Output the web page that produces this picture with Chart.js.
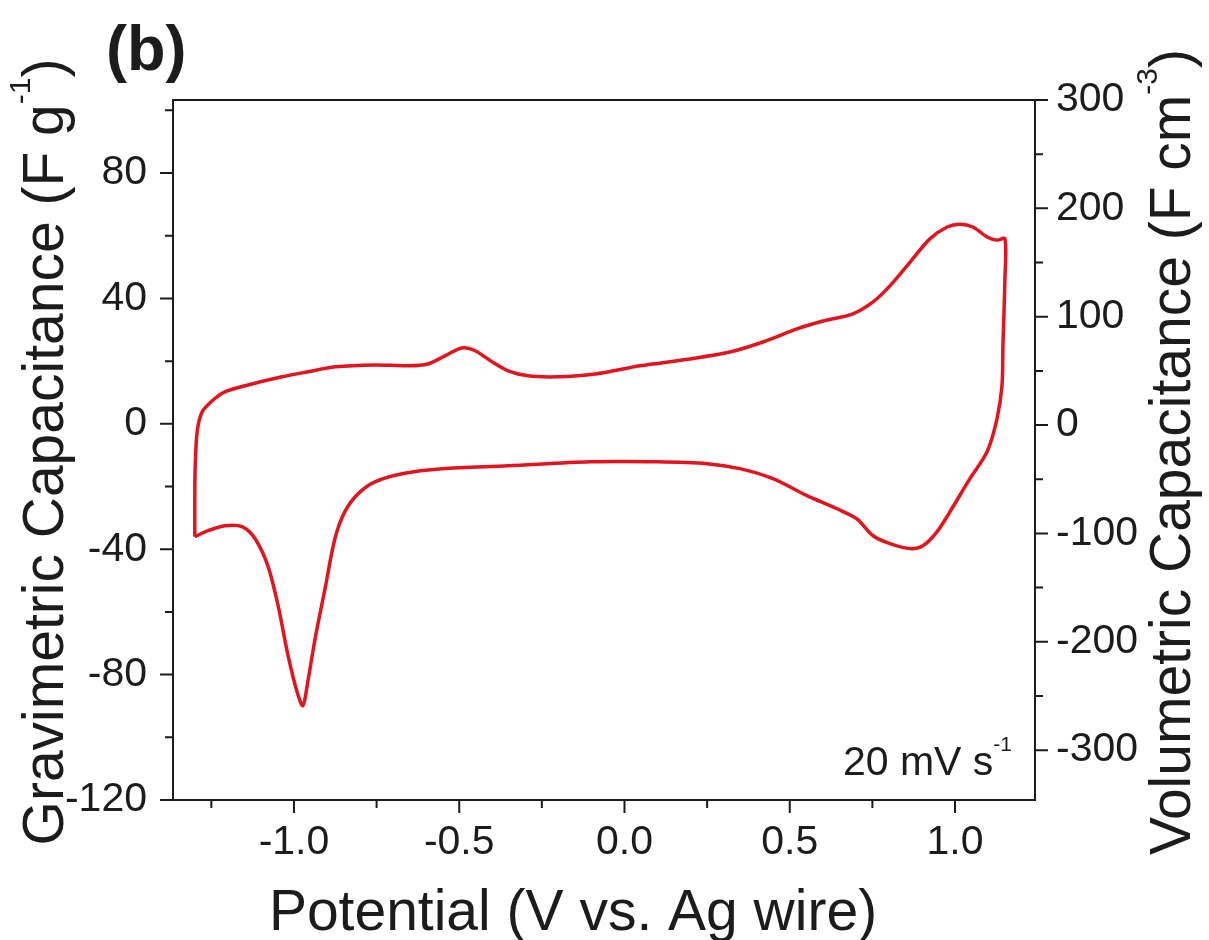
<!DOCTYPE html>
<html>
<head>
<meta charset="utf-8">
<title>CV curve, 20 mV/s</title>
<script src="https://cdn.jsdelivr.net/npm/chart.js@4.4.1/dist/chart.umd.min.js"></script>
<style>
  html, body { margin: 0; padding: 0; background: #ffffff; }
  #wrap { width: 1209px; height: 940px; }
</style>
</head>
<body>
<div id="wrap"><canvas id="cv" width="1209" height="940"></canvas></div>
<script>
// Cyclic voltammogram: anodic sweep (upper branch) then cathodic sweep (lower branch)
const potential = [
  -1.300, -1.300, -1.299, -1.293, -1.278, -1.248, -1.209, -1.139, -1.036, -0.958,
  -0.876, -0.755, -0.655, -0.595, -0.543, -0.492, -0.452, -0.401, -0.352, -0.292,
  -0.201, -0.089, 0.047, 0.198, 0.319, 0.419, 0.522, 0.601, 0.691, 0.752,
  0.803, 0.864, 0.924, 0.976, 1.015, 1.054, 1.097, 1.127, 1.151, 1.151,
  1.145, 1.142, 1.127, 1.097, 1.045, 0.985, 0.946, 0.903, 0.864, 0.803,
  0.752, 0.703, 0.643, 0.552, 0.449, 0.349, 0.250, 0.098, -0.104, -0.352,
  -0.552, -0.673, -0.755, -0.806, -0.846, -0.876, -0.906, -0.936, -0.958, -0.973,
  -0.991, -1.018, -1.048, -1.079, -1.118, -1.157, -1.209, -1.260, -1.300
];
const capacitance = [
  -36.0, -25.0, -14.3, -2.6, 3.8, 7.3, 10.2, 12.4, 15.0, 16.6,
  18.2, 18.8, 18.5, 19.1, 21.7, 24.2, 23.3, 19.8, 16.9, 15.3,
  15.0, 15.9, 18.5, 20.7, 22.9, 26.1, 30.3, 32.8, 35.1, 38.9,
  44.0, 51.6, 59.0, 62.8, 63.7, 62.8, 59.6, 58.6, 59.0, 46.2,
  24.9, 12.1, 1.6, -8.9, -17.5, -28.0, -34.4, -38.9, -39.8, -38.2,
  -35.7, -30.3, -27.1, -22.9, -17.5, -14.3, -12.7, -12.1, -12.1, -13.4,
  -14.3, -15.9, -18.5, -22.3, -28.0, -36.6, -52.6, -68.5, -82.2, -89.9,
  -85.4, -73.9, -58.0, -45.3, -36.6, -32.8, -32.5, -34.1, -36.0
];

// Axis ticks
const potentialTicks = [-1.0, -0.5, 0.0, 0.5, 1.0];
const potentialMinor = [-1.25, -0.75, -0.25, 0.25, 0.75];
const gravTicks = [80, 40, 0, -40, -80, -120];
const gravMinor = [100, 60, 20, -20, -60, -100];
const volTicks = [300, 200, 100, 0, -100, -200, -300];
const volMinor = [250, 150, 50, -50, -150, -250];

const INK = '#1c1c1c';
const FONT = "'Liberation Sans', Arial, Helvetica, sans-serif";
Chart.defaults.font.family = FONT;
Chart.defaults.color = INK;

function setTicks(values) {
  return scale => { scale.ticks = values.map(v => ({ value: v })); };
}

// Text with superscripts: parts = [{t, sup}]
function drawRich(ctx, parts, x, y, angle, size, align) {
  ctx.save();
  ctx.translate(x, y);
  ctx.rotate(angle);
  ctx.fillStyle = INK;
  ctx.textBaseline = 'alphabetic';
  ctx.textAlign = 'left';
  const supSize = Math.round(size * 0.52);
  let total = 0;
  parts.forEach(p => {
    ctx.font = (p.sup ? supSize : size) + 'px ' + FONT;
    p.w = ctx.measureText(p.t).width;
    total += p.w;
  });
  let cx = align === 'right' ? -total : -total / 2;
  parts.forEach(p => {
    ctx.font = (p.sup ? supSize : size) + 'px ' + FONT;
    ctx.fillText(p.t, cx, p.sup ? -size * 0.58 : 0);
    cx += p.w;
  });
  ctx.restore();
}

const framePlugin = {
  id: 'frame',
  afterDraw(chart) {
    const ctx = chart.ctx;
    const { left, right, top, bottom } = chart.chartArea;
    const sx = chart.scales.x, sy = chart.scales.y, sy2 = chart.scales.y2;
    ctx.save();
    ctx.strokeStyle = INK;
    ctx.lineWidth = 2;
    ctx.beginPath();
    ctx.moveTo(left - 1, top);
    ctx.lineTo(right + 1, top);
    // outward tick marks
    const MAJ = 13, MIN = 8;
    potentialTicks.forEach(v => { const p = sx.getPixelForValue(v); ctx.moveTo(p, bottom); ctx.lineTo(p, bottom + MAJ); });
    potentialMinor.forEach(v => { const p = sx.getPixelForValue(v); ctx.moveTo(p, bottom); ctx.lineTo(p, bottom + MIN); });
    gravTicks.forEach(v => { const p = sy.getPixelForValue(v); ctx.moveTo(left, p); ctx.lineTo(left - MAJ, p); });
    gravMinor.forEach(v => { const p = sy.getPixelForValue(v); ctx.moveTo(left, p); ctx.lineTo(left - MIN, p); });
    volTicks.forEach(v => { const p = sy2.getPixelForValue(v); ctx.moveTo(right, p); ctx.lineTo(right + MAJ, p); });
    volMinor.forEach(v => { const p = sy2.getPixelForValue(v); ctx.moveTo(right, p); ctx.lineTo(right + MIN, p); });
    ctx.stroke();
    ctx.restore();

    // axis titles
    drawRich(ctx, [{ t: 'Gravimetric Capacitance (F g' }, { t: '-1', sup: true }, { t: ')' }],
      63, 452, -Math.PI / 2, 57, 'center');
    drawRich(ctx, [{ t: 'Volumetric Capacitance (F cm' }, { t: '-3', sup: true }, { t: ')' }],
      1190, 452, -Math.PI / 2, 57, 'center');
    drawRich(ctx, [{ t: 'Potential (V vs. Ag wire)' }], 573, 930, 0, 57, 'center');

    // scan rate note
    drawRich(ctx, [{ t: '20 mV s' }, { t: '-1', sup: true }], 1012, 775, 0, 41, 'right');

    // panel letter
    ctx.save();
    ctx.fillStyle = INK;
    ctx.font = 'bold 63px ' + FONT;
    ctx.textAlign = 'left';
    ctx.textBaseline = 'alphabetic';
    ctx.fillText('(b)', 106, 70);
    ctx.restore();
  }
};

new Chart(document.getElementById('cv'), {
  type: 'scatter',
  data: {
    datasets: [{
      data: potential.map((v, i) => ({ x: v, y: capacitance[i] })),
      showLine: true,
      borderColor: '#e3141d',
      borderWidth: 3.5,
      pointRadius: 0,
      tension: 0.3,
      fill: false,
      yAxisID: 'y'
    }]
  },
  options: {
    responsive: false,
    animation: false,
    devicePixelRatio: 1,
    layout: { padding: { top: 100, left: 0, right: 0, bottom: 0 } },
    plugins: { legend: { display: false }, tooltip: { enabled: false } },
    scales: {
      x: {
        type: 'linear', position: 'bottom', min: -1.366, max: 1.242,
        grid: { display: false, drawTicks: false },
        border: { display: true, color: INK, width: 2 },
        ticks: { font: { size: 41 }, color: INK, padding: 18, autoSkip: false, maxRotation: 0,
                 callback: v => v.toFixed(1) },
        afterBuildTicks: setTicks(potentialTicks),
        afterFit: s => { s.height = 140; }
      },
      y: {
        type: 'linear', position: 'left', min: -120, max: 103.3,
        grid: { display: false, drawTicks: false },
        border: { display: true, color: INK, width: 2 },
        ticks: { font: { size: 41 }, color: INK, padding: 26, autoSkip: false,
                 callback: v => String(v) },
        afterBuildTicks: setTicks(gravTicks),
        afterFit: s => { s.width = 173; }
      },
      y2: {
        type: 'linear', position: 'right', min: -346, max: 300,
        grid: { display: false, drawTicks: false },
        border: { display: true, color: INK, width: 2 },
        ticks: { font: { size: 41 }, color: INK, padding: 21, autoSkip: false,
                 callback: v => String(v) },
        afterBuildTicks: setTicks(volTicks),
        afterFit: s => { s.width = 174; }
      }
    }
  },
  plugins: [framePlugin]
});
</script>
</body>
</html>
